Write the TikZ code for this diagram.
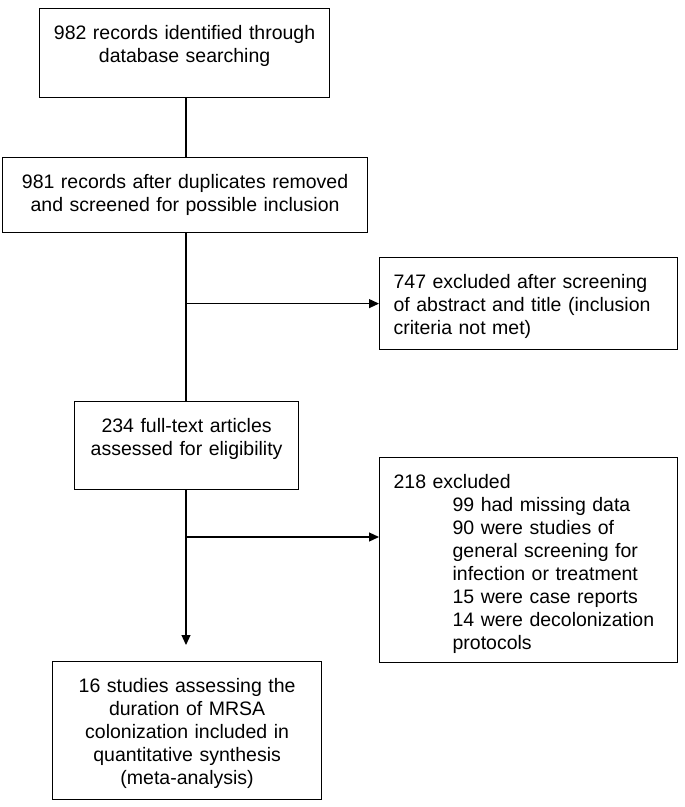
\documentclass[tikz,border=0pt]{standalone}
\usepackage{fontspec}
\setmainfont{Liberation Sans}
\usetikzlibrary{arrows.meta}
\def\ind{\hspace*{59pt}}

\begin{document}
\begin{tikzpicture}[x=1pt,y=-1pt,
	box/.style={draw, line width=1.2pt, inner sep=0pt, anchor=north west,
		font=\fontsize{19.5}{23}\selectfont, text height=31pt},
	link/.style={line width=1.2pt},
	arr/.style={line width=1.2pt, -{Triangle[length=10pt,width=9pt]}}]
		%%%%% START %%%%%
		\useasboundingbox (0,0) rectangle (685,807);
		
		\node[box, text width=290pt, text depth=58pt, align=center] (rec) at (39,8)
			{982 records identified through\\database searching};
		\node[box, text width=365pt, text depth=44pt, align=center] (scr) at (2,157)
			{981 records after duplicates removed\\and screened for possible inclusion};
		\node[box, inner xsep=14pt, text width=270pt, text depth=61pt, align=left] (excl) at (379,257)
			{747 excluded after screening\\of abstract and title (inclusion\\criteria not met)};
		\node[box, text width=224pt, text depth=57pt, align=center] (full) at (74,401)
			{234 full-text articles\\assessed for eligibility};
		\node[box, inner xsep=14pt, text width=270pt, text depth=174pt, align=left] (excl2) at (379,457)
			{218 excluded\\\ind 99 had missing data\\\ind 90 were studies of\\\ind general screening for\\\ind infection or treatment\\\ind 15 were case reports\\\ind 14 were decolonization\\\ind protocols};
		\node[box, text width=269pt, text depth=107pt, align=center] (incl) at (52,661)
			{16 studies assessing the\\duration of MRSA\\colonization included in\\quantitative synthesis\\(meta-analysis)};
		
		\coordinate (trunk) at (186,0);
		\coordinate (fork) at (186,537);
		\coordinate (tip) at (186,645);
		
		\draw[link] (rec.south -| trunk) -- (scr.north -| trunk);
		\draw[link] (scr.south -| trunk) -- (full.north -| trunk);
		\draw[arr] (trunk |- excl.west) -- (excl.west);
		\draw[arr] (fork) -- (fork -| excl2.west);
		\draw[arr] (full.south -| trunk) -- (tip);
		%%%%% END %%%%%
\end{tikzpicture}
\end{document}
